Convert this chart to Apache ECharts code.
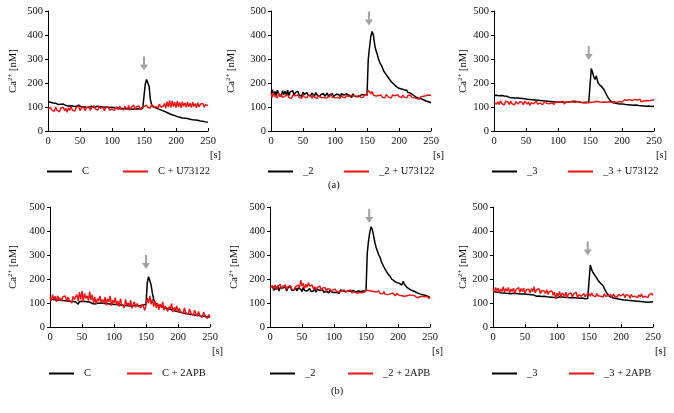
<!DOCTYPE html>
<html>
<head>
<meta charset="utf-8">
<script src="https://cdn.jsdelivr.net/npm/echarts@6/dist/echarts.min.js"></script>
<style>html,body{margin:0;padding:0;background:#fff;}#c{width:674px;height:413px;}</style>
</head>
<body>
<div id="c"></div>
<script>
const times = [0,2,4,6,8,10,12,14,16,18,20,22,24,26,28,30,32,34,36,38,40,42,44,46,48,50,52,54,56,58,60,62,64,66,68,70,72,74,76,78,80,82,84,86,88,90,92,94,96,98,100,102,104,106,108,110,112,114,116,118,120,122,124,126,128,130,132,134,136,138,140,142,144,146,148,150,152,154,156,158,160,162,164,166,168,170,172,174,176,178,180,182,184,186,188,190,192,194,196,198,200,202,204,206,208,210,212,214,216,218,220,222,224,226,228,230,232,234,236,238,240,242,244,246,248,250];

// Panel (a) C
const aC = [122,118,120,115,117,112,116,113,110,114,111, 108,112,109,106,110,104,108,105,107,103, 106,102,105,108,103,100,104,101,103,99, 102,98,101,104,100,97,101,103,99,102, 98,101,97,99,96,100,95,98,96,99, 95,97,94,98,95,93,96,94,97,93, 95,92,96,93,94,91,95,92,94,93, 95,92,96,94, 100,195,215,210,185,130,108,102,100,97, 95,93,90,88,86,84, 82,79,77,75,72,70,68,66,64,62, 60,58,57,56,54,55,53,51,52,50, 49,48,47,48,46,44,45,43,42,40, 41,39,38,37,36];
const aCU = [92,85,98,88,95,82,100,87,93,80,96, 89,99,84,94,78,97,86,101,88,92, 83,98,90,104,85,95,88,100,84,97, 91,102,86,96,89,105,92,99,87,103, 94,88,99,85,96,90,101,87,95,91, 98,86,100,92,89,104,93,97,88,102, 95,90,106,87,99,93,108,89,101,96, 104,88,97,92, 102,95,108,98,104,96,110,99,105,101, 108,97,112,100,106,103, 115,95,122,100,128,98,125,102,120,97, 124,100,119,96,122,103,117,99,121,101, 116,98,120,102,114,97,118,100,112,104, 115,99,110,102,106];
// Panel (a) _2
const a2 = [160,172,150,165,148,170,155,162,145,168,152, 165,150,170,148,163,155,168,147,160,152, 166,150,158,145,162,153,148,160,150,155, 147,158,152,145,160,150,155,143,152,148, 156,145,150,158,142,152,147,155,144,150, 153,146,152,143,156,148,150,142,154,147, 149,152,140,155,146,151,143,150,145,148, 152,144,150,146, 150,300,350,395,415,400,360,335,320,300, 285,275,265,250,245,235, 228,220,212,205,198,195,190,185,182,178, 180,175,168,172,165,170,160,163,158,160, 150,148,142,145,138,140,135,132,130,128, 125,128,122,120,118];
const a2U = [155,140,160,145,150,138,158,143,152,140,148, 145,138,152,140,148,135,150,142,146,138, 150,140,147,136,152,142,145,138,149,141, 146,137,150,140,144,136,148,142,139,145, 140,148,137,145,142,135,150,140,146,138, 144,140,148,136,150,141,145,138,147,140, 143,137,149,141,146,138,144,140,148,139, 145,140,150,142, 148,170,162,155,165,150,158,145,152,148, 142,150,140,147,138,152, 145,140,148,138,150,142,146,140,152,143, 147,139,150,141,145,138,148,142,150,140, 146,138,144,135,140,132,142,136,145,138, 147,140,150,143,148];
// Panel (a) _3
const a3 = [148,146,149,145,147,144,148,143,146,142,145, 143,140,144,139,142,138,141,137,140,136, 139,135,138,134,137,132,136,131,134,130, 133,129,132,128,131,127,130,126,129,125, 128,124,127,123,126,122,125,121,124,120, 123,121,124,120,122,119,123,121,120,122, 121,124,120,123,119,122,121,120,123,119, 122,120,121,119, 125,260,245,225,215,230,205,195,190,185, 178,172,165,150,140,132, 125,122,118,120,116,118,114,117,113,115, 112,114,110,113,109,111,108,112,107,110, 108,110,106,109,105,108,104,107,103,106, 104,106,102,105,103];
const a3U = [118,125,112,122,110,126,115,120,108,124,116, 121,110,125,114,119,108,123,116,112,122, 115,120,109,124,117,112,121,106,118,122, 113,119,125,112,120,116,122,110,118,124, 115,121,113,119,117,123,111,120,116,122, 114,120,118,124,112,121,117,119,115,123, 118,121,114,120,117,123,116,119,121,117, 122,118,124,120, 123,119,125,121,118,124,120,122,126,119, 123,121,127,120,124,122, 126,120,128,122,125,119,127,123,129,121, 126,130,122,128,124,131,123,127,125,132, 124,129,126,133,122,128,125,131,127,134, 126,130,128,132,129];
// Panel (b) C
const bC = [118,122,115,120,114,118,113,117,112,115,110, 114,109,112,108,111,107,110,106,109,105, 108,95,106,104,107,103,106,102,105,101, 104,100,98,102,96,101,99,97,100,96, 99,95,98,94,97,93,96,92,95,91, 94,90,93,89,92,88,91,87,90,86, 89,85,88,86,89,84,90,85,88,87, 90,86,92,88, 95,185,210,205,175,140,115,100,95,92, 90,88,86,84,82,80, 78,77,75,74,72,70,68,67,65,64, 62,61,60,58,57,56,55,54,53,52, 52,51,50,49,48,48,47,46,45,45, 44,43,43,42,42];
const bCA = [125,110,135,115,128,105,130,112,122,108,126, 118,130,105,125,112,120,100,128,115,110, 135,108,145,115,150,105,140,120,130,110, 148,112,135,100,125,95,118,108,130,102, 115,98,125,90,118,105,130,88,112,100, 122,92,108,85,118,95,102,80,115,90, 100,85,112,78,95,105,82,98,88,92, 80,95,85,70, 90,120,100,130,95,115,85,108,80,100, 72,95,80,105,70,88, 92,65,85,75,98,62,82,70,88,60, 78,65,72,55,80,60,68,52,75,58, 62,48,70,55,45,65,50,58,40,62, 48,55,35,52,40];
// Panel (b) _2
const b2 = [165,158,170,152,168,155,172,150,165,158,162, 155,168,150,163,157,170,152,160,155,165, 150,162,155,158,148,165,152,160,150,158, 160,148,155,150,162,145,158,150,152,148, 155,145,152,148,150,142,155,146,150,144, 152,145,148,140,154,146,150,142,148,145, 150,143,148,140,152,144,146,142,150,145, 148,142,150,146, 150,310,360,395,418,405,380,350,330,315, 300,290,272,265,250,240, 235,222,215,210,200,205,192,195,185,188, 182,180,175,190,178,172,165,160,158,155, 152,150,148,145,142,140,138,136,135,133, 132,130,128,126,124];
const b2A = [165,158,172,160,175,155,168,162,178,158,170, 162,175,155,168,160,172,158,165,155,168, 160,175,162,195,170,182,160,178,165,185, 170,162,175,158,168,155,165,160,170,152, 162,155,165,148,160,152,158,145,155,150, 158,148,155,145,152,150,148,155,145,152, 150,145,155,142,150,146,152,140,148,144, 150,142,148,145, 155,148,152,145,150,142,148,140,146,138, 150,140,145,138,148,136, 142,135,140,138,132,142,136,130,140,135, 132,138,130,136,128,135,130,126,134,128, 132,125,130,128,122,130,126,120,128,124, 126,120,128,118,125];
// Panel (b) _3
const b3 = [150,148,146,149,145,147,143,146,142,145,141, 144,140,143,139,142,141,138,140,137,139, 136,138,135,137,134,136,130,135,132,134, 131,133,130,128,132,129,131,127,130,128, 129,126,128,125,127,124,126,123,125,122, 124,126,123,125,122,124,121,123,120,122, 121,123,120,122,119,121,118,120,119,121, 120,118,121,119, 125,258,240,228,232,212,205,195,188,182, 178,172,160,150,140,132, 128,124,122,118,120,116,118,114,116,112, 114,110,112,108,111,107,110,106,109,105, 108,104,107,103,106,102,105,101,104,102, 103,100,104,101,105];
const b3A = [160,145,165,150,162,142,158,148,168,145,160, 150,165,142,158,148,162,140,155,150,165, 145,160,148,162,140,155,150,158,142,160, 148,168,142,155,150,160,138,152,145,150, 140,155,135,148,142,150,132,145,118,140, 130,148,125,142,135,128,145,122,138,130, 142,125,138,130,145,120,135,140,128,136, 140,125,135,130, 138,128,142,132,136,125,140,130,135,128, 132,125,138,128,134,130, 126,135,122,138,128,132,124,136,128,130, 125,138,122,135,128,132,120,136,126,134, 128,136,122,134,125,138,124,132,128,136, 122,135,128,140,132];

const blackNames = ['C', '_2', '_3', 'C', '_2', '_3'];
const redNames = ['C + U73122', '_2 + U73122', '_3 + U73122', 'C + 2APB', '_2 + 2APB', '_3 + 2APB'];
const blackData = [aC, a2, a3, bC, b2, b3];
const redData = [aCU, a2U, a3U, bCA, b2A, b3A];
const xTicks = [0, 50, 100, 150, 200, 250];
const yTicks = [0, 100, 200, 300, 400, 500];
const arrowAt = [[150, 281], [153, 469], [148, 325], [150, 271], [155, 462], [148, 327]];
const panelLabels = ['(a)', '(b)'];

// layout
const grids = [
  {left: 48, top: 11}, {left: 271, top: 11}, {left: 494, top: 11},
  {left: 50, top: 207}, {left: 270, top: 207}, {left: 493, top: 207}
];
const nameGaps = [28, 33, 24, 30, 29, 23];
const legendPos = [
  [47, 123, 173], [268, 344, 173], [492, 568, 173],
  [49, 127, 375], [270, 348, 375], [492, 569, 375]
];
const FONT = 'Liberation Serif';
const fs = 10.5;

const option = {
  animation: false,
  backgroundColor: '#fff',
  textStyle: {fontFamily: FONT},
  grid: [], xAxis: [], yAxis: [], series: [], legend: [], graphic: []
};
const arrowPath = 'path://M3,0 L5,0 L5,8 L8,8 L4,14 L0,8 L3,8 Z';

for (let i = 0; i < 6; i++) {
  option.grid.push({left: grids[i].left, top: grids[i].top, width: 160, height: 120});
  option.xAxis.push({
    type: 'value', gridIndex: i, min: 0, max: 250, interval: 50,
    axisLine: {lineStyle: {color: '#000', width: 1}},
    axisTick: {show: true, inside: true, length: 3, lineStyle: {color: '#000'}},
    splitLine: {show: false},
    axisLabel: {color: '#111', fontFamily: FONT, fontSize: fs, margin: 5,
      formatter: v => xTicks.indexOf(v) >= 0 ? String(v) : ''}
  });
  option.yAxis.push({
    type: 'value', gridIndex: i, min: 0, max: 500, interval: 100,
    name: '{a|Ca}{s|2+}{a| [nM]}', nameLocation: 'middle', nameGap: nameGaps[i],
    nameTextStyle: {rich: {
      a: {fontFamily: FONT, fontSize: fs, color: '#111'},
      s: {fontFamily: FONT, fontSize: 7, color: '#111', padding: [0, 0, 6, 0]}
    }},
    axisLine: {show: true, lineStyle: {color: '#000', width: 1}},
    axisTick: {show: true, length: 3, lineStyle: {color: '#000'}},
    splitLine: {show: false},
    axisLabel: {color: '#111', fontFamily: FONT, fontSize: fs, margin: 5,
      formatter: v => yTicks.indexOf(v) >= 0 ? String(v) : ''}
  });
  option.series.push({
    type: 'line', name: blackNames[i], xAxisIndex: i, yAxisIndex: i,
    data: times.map((t, k) => [t, blackData[i][k]]),
    showSymbol: false, color: '#000', lineStyle: {color: '#000', width: 1.5},
    markPoint: {
      symbol: arrowPath, symbolSize: [8, 14], silent: true,
      itemStyle: {color: '#a3a3a3'}, label: {show: false},
      data: [{coord: arrowAt[i]}]
    }
  });
  option.series.push({
    type: 'line', name: redNames[i], xAxisIndex: i, yAxisIndex: i,
    data: times.map((t, k) => [t, redData[i][k]]),
    showSymbol: false, color: '#ee1111', lineStyle: {color: '#ee1111', width: 1.4}
  });
  const lp = legendPos[i];
  option.legend.push({
    left: lp[0], top: lp[2] - 7, padding: 0, data: [blackNames[i]], icon: 'rect',
    itemWidth: 25, itemHeight: 2, selectedMode: false,
    textStyle: {fontFamily: FONT, fontSize: fs, color: '#111', padding: [0, 0, 0, 5]}
  });
  option.legend.push({
    left: lp[1], top: lp[2] - 7, padding: 0, data: [redNames[i]], icon: 'rect',
    itemWidth: 25, itemHeight: 2, selectedMode: false,
    textStyle: {fontFamily: FONT, fontSize: fs, color: '#111', padding: [0, 0, 0, 5]}
  });
  option.graphic.push({
    type: 'text', left: grids[i].left + 162, top: grids[i].top + 139,
    style: {text: '[s]', font: fs + 'px "' + FONT + '"', fill: '#111'}
  });
}
option.graphic.push({type: 'text', left: 328, top: 180,
  style: {text: panelLabels[0], font: fs + 'px "' + FONT + '"', fill: '#111'}});
option.graphic.push({type: 'text', left: 331, top: 386,
  style: {text: panelLabels[1], font: fs + 'px "' + FONT + '"', fill: '#111'}});

const chart = echarts.init(document.getElementById('c'), null, {renderer: 'canvas'});
chart.setOption(option);
</script>
</body>
</html>
